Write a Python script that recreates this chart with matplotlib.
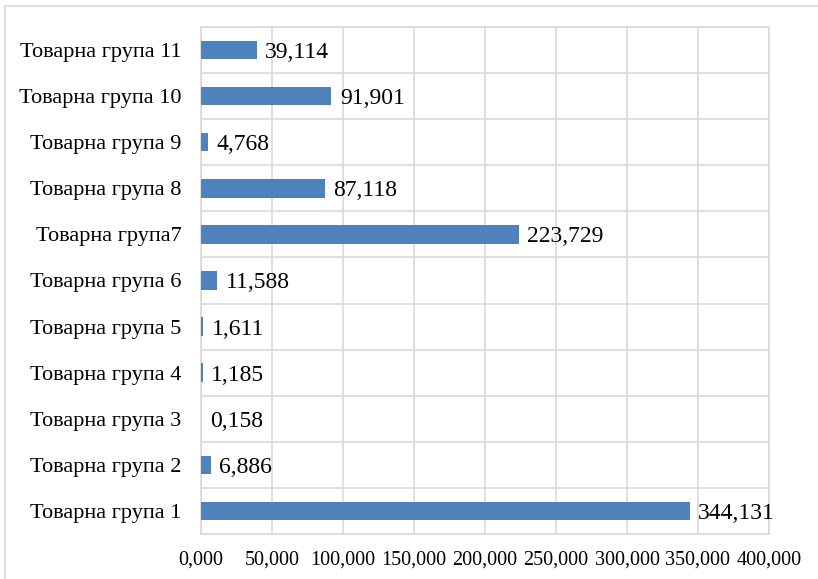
import matplotlib
matplotlib.use("Agg")
import matplotlib.pyplot as plt
from matplotlib.patches import Rectangle
import numpy as np

categories = ["Товарна група 1", "Товарна група 2", "Товарна група 3", "Товарна група 4",
              "Товарна група 5", "Товарна група 6", "Товарна група7", "Товарна група 8",
              "Товарна група 9", "Товарна група 10", "Товарна група 11"]
values = [344.131, 6.886, 0.158, 1.185, 1.611, 11.588, 223.729, 87.118, 4.768, 91.901, 39.114]
xticks = [0, 50, 100, 150, 200, 250, 300, 350, 400]

plt.rcParams['font.family'] = ['Liberation Serif', 'DejaVu Serif']

fig = plt.figure(figsize=(8.18, 5.79), dpi=100)
fig.patches.append(Rectangle((5/818, -0.1), 1.2, 1.1 - 6/579, transform=fig.transFigure,
                             fill=False, edgecolor='#D9D9D9', linewidth=1.2))
ax = fig.add_axes([201/818, 1 - 534/579, (769 - 201)/818, (534 - 27)/579])

y = np.arange(len(categories))
ax.barh(y, values, height=0.4, color='#4F81BD', zorder=3)

def fmt(v):
    return f"{v:,.3f}".replace('.', ',')

for yi, v in zip(y, values):
    ax.text(v + 6, yi, fmt(v), va='center_baseline', ha='left', fontsize=17, zorder=4)

ax.set_xlim(0, 400)
ax.set_ylim(-0.5, len(categories) - 0.5)
ax.set_xticks(xticks)
ax.set_xticklabels([fmt(t) for t in xticks], fontsize=14.5)
ax.set_yticks(y)
ax.set_yticklabels(categories, fontsize=16)
ax.set_yticks(np.arange(-0.5, len(categories), 1), minor=True)
ax.tick_params(axis='both', which='both', length=0)
ax.tick_params(axis='x', pad=12)
ax.tick_params(axis='y', pad=14)
ax.grid(axis='x', which='major', color='#D9D9D9', linewidth=1.2, zorder=0)
ax.grid(axis='y', which='minor', color='#D9D9D9', linewidth=1.2, zorder=0)
for s in ax.spines.values():
    s.set_color('#D9D9D9')
    s.set_linewidth(1.2)

fig.savefig("out.png", dpi=100)
